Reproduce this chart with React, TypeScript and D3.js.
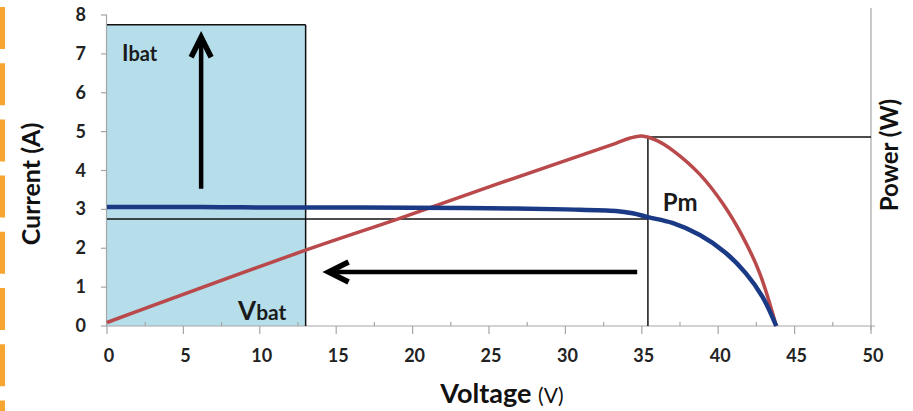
import React, { useRef, useEffect } from 'react';
import * as d3 from 'd3';

// I-V curve of the panel
const voltageI = [0, 5, 10, 15, 20, 25, 30, 33.3, 34.4, 35.4, 37, 38.8, 40.5, 41.8, 42.9, 43.8];
const current = [3.06, 3.06, 3.05, 3.05, 3.04, 3.03, 3.0, 2.96, 2.9, 2.8, 2.65, 2.34, 1.88, 1.36, 0.75, 0];

// P-V curve (W)
const voltageP = [0, 13, 19.2, 25.7, 30.1, 33.3, 34.2, 35.0, 36.0, 37.0, 38.8, 40.3, 41.6, 42.7, 43.8];
const power = [1.8, 39, 55.5, 73.5, 85.3, 94, 96.6, 97.8, 95.4, 90.5, 78, 63, 46, 27.5, 0];

const xTicks = [0, 5, 10, 15, 20, 25, 30, 35, 40, 45, 50];
const yTicks = [0, 1, 2, 3, 4, 5, 6, 7, 8];

// battery box and maximum power point
const vBat = 13;
const iBatTop = 7.75;
const vMpp = 35.4;
const iMpp = 2.75;
const pMpp = 97.2;

export default function App() {
    const svgRef = useRef<SVGSVGElement>(null);

    useEffect(() => {
        const height = 411;
        const font = 'Lato, "Open Sans", sans-serif';

        const svg = d3.select(svgRef.current);
        svg.selectAll('*').remove();

        const x = d3.scaleLinear().domain([0, 50]).range([107, 871]);
        const y = d3.scaleLinear().domain([0, 8]).range([326, 15]);
        const yP = d3.scaleLinear().domain([0, 160]).range([326, 15]);

        // orange dashes at the left edge
        svg.append('line')
            .attr('x1', 2.5).attr('x2', 2.5)
            .attr('y1', 7).attr('y2', height)
            .attr('stroke', '#f7a531')
            .attr('stroke-width', 5)
            .attr('stroke-dasharray', '42 14.2');

        // battery area
        svg.append('rect')
            .attr('x', x(0)).attr('y', y(iBatTop))
            .attr('width', x(vBat) - x(0))
            .attr('height', y(0) - y(iBatTop))
            .attr('fill', '#b5deea');

        // axes
        const axisColor = '#a6a6a6';
        svg.append('line')
            .attr('x1', x(0)).attr('x2', x(50) + 4)
            .attr('y1', y(0)).attr('y2', y(0))
            .attr('stroke', axisColor).attr('stroke-width', 1.2);
        svg.append('line')
            .attr('x1', x(0) - 0.5).attr('x2', x(0) - 0.5)
            .attr('y1', y(8)).attr('y2', y(0))
            .attr('stroke', axisColor).attr('stroke-width', 1.2);
        svg.append('line')
            .attr('x1', x(50)).attr('x2', x(50))
            .attr('y1', 8).attr('y2', y(0) + 4)
            .attr('stroke', axisColor).attr('stroke-width', 1.2);

        svg.selectAll('.xmaj')
            .data(xTicks)
            .enter().append('line')
            .attr('x1', d => x(d)).attr('x2', d => x(d))
            .attr('y1', y(0)).attr('y2', y(0) + 8)
            .attr('stroke', axisColor).attr('stroke-width', 1.2);
        svg.selectAll('.xmin')
            .data(xTicks.slice(0, -1))
            .enter().append('line')
            .attr('x1', d => x(d + 2.5)).attr('x2', d => x(d + 2.5))
            .attr('y1', y(0) - 4).attr('y2', y(0))
            .attr('stroke', axisColor).attr('stroke-width', 1.2);
        svg.selectAll('.ymaj')
            .data(yTicks)
            .enter().append('line')
            .attr('x1', x(0) - 6).attr('x2', x(0))
            .attr('y1', d => y(d)).attr('y2', d => y(d))
            .attr('stroke', axisColor).attr('stroke-width', 1.2);

        svg.selectAll('.xlab')
            .data(xTicks)
            .enter().append('text')
            .attr('x', d => x(d) + 2).attr('y', 362)
            .attr('text-anchor', 'middle')
            .attr('font-family', font).attr('font-weight', 'bold')
            .attr('font-size', 18).attr('fill', '#222')
            .text(d => d);
        svg.selectAll('.ylab')
            .data(yTicks)
            .enter().append('text')
            .attr('x', 86).attr('y', d => y(d) + 6)
            .attr('text-anchor', 'end')
            .attr('font-family', font).attr('font-weight', 'bold')
            .attr('font-size', 18).attr('fill', '#222')
            .text(d => d);

        // reference lines
        const ref = [
            [0, iBatTop, vBat, iBatTop],
            [vBat, iBatTop, vBat, 0],
            [0, iMpp, vMpp, iMpp],
            [vMpp, pMpp / 20, vMpp, 0],
            [vMpp, pMpp / 20, 50, pMpp / 20]
        ];
        svg.selectAll('.ref')
            .data(ref)
            .enter().append('line')
            .attr('x1', d => x(d[0])).attr('y1', d => y(d[1]))
            .attr('x2', d => x(d[2])).attr('y2', d => y(d[3]))
            .attr('stroke', '#111').attr('stroke-width', 1.5);

        // curves
        const pPts = voltageP.map((v, i) => ({ v, p: power[i] }));
        const iPts = voltageI.map((v, i) => ({ v, i: current[i] }));
        svg.append('path')
            .datum(pPts)
            .attr('d', d3.line<any>().x(d => x(d.v)).y(d => yP(d.p)).curve(d3.curveCatmullRom.alpha(0.5)))
            .attr('fill', 'none')
            .attr('stroke', '#b9494a')
            .attr('stroke-width', 3.5);
        svg.append('path')
            .datum(iPts)
            .attr('d', d3.line<any>().x(d => x(d.v)).y(d => y(d.i)).curve(d3.curveCatmullRom.alpha(0.5)))
            .attr('fill', 'none')
            .attr('stroke', '#1b3a85')
            .attr('stroke-width', 4.5);

        // arrows
        const arrow = (x1: number, y1: number, x2: number, y2: number) => {
            const ang = Math.atan2(y2 - y1, x2 - x1);
            const len = 20, half = 10;
            const bx = x2 - Math.cos(ang) * len, by = y2 - Math.sin(ang) * len;
            const nx = -Math.sin(ang) * half, ny = Math.cos(ang) * half;
            svg.append('line')
                .attr('x1', x1).attr('y1', y1).attr('x2', x2).attr('y2', y2)
                .attr('stroke', '#000').attr('stroke-width', 4.5);
            svg.append('polyline')
                .attr('points', `${bx + nx},${by + ny} ${x2},${y2} ${bx - nx},${by - ny}`)
                .attr('fill', 'none')
                .attr('stroke', '#000').attr('stroke-width', 5.5)
                .attr('stroke-linejoin', 'miter');
        };
        arrow(x(6.16), y(3.53), x(6.16), y(7.43));
        arrow(x(34.7), y(1.39), x(14.5), y(1.39));

        // labels
        const ibat = svg.append('text')
            .attr('x', x(0.98)).attr('y', y(6.81))
            .attr('font-family', font).attr('font-weight', 'bold').attr('fill', '#1a1a1a');
        ibat.append('tspan').attr('font-size', 22).text('I');
        ibat.append('tspan').attr('font-size', 20).text('bat');

        const vbat = svg.append('text')
            .attr('x', x(8.58)).attr('y', y(0.15))
            .attr('font-family', font).attr('font-weight', 'bold').attr('fill', '#1a1a1a');
        vbat.append('tspan').attr('font-size', 26).text('V');
        vbat.append('tspan').attr('font-size', 21).text('bat');

        svg.append('text')
            .attr('x', x(36.37)).attr('y', y(2.96))
            .attr('font-family', font).attr('font-weight', 'bold')
            .attr('font-size', 24).attr('fill', '#1a1a1a')
            .text('Pm');

        svg.append('text')
            .attr('transform', 'translate(40,184) rotate(-90)')
            .attr('text-anchor', 'middle')
            .attr('font-family', font).attr('font-weight', 'bold')
            .attr('font-size', 25).attr('fill', '#111')
            .text('Current (A)');

        svg.append('text')
            .attr('transform', 'translate(898,155) rotate(-90)')
            .attr('text-anchor', 'middle')
            .attr('font-family', font).attr('font-weight', 'bold')
            .attr('font-size', 24).attr('fill', '#111')
            .text('Power (W)');

        const vl = svg.append('text')
            .attr('x', 502).attr('y', 403)
            .attr('text-anchor', 'middle')
            .attr('font-family', font).attr('fill', '#111');
        vl.append('tspan').attr('font-size', 27).attr('font-weight', 'bold').text('Voltage ');
        vl.append('tspan').attr('font-size', 21).text('(V)');
    }, []);

    return (
        <svg ref={svgRef} width={913} height={411}
            style={{ position: 'absolute', left: 0, top: 0, background: '#fff' }} />
    );
}
